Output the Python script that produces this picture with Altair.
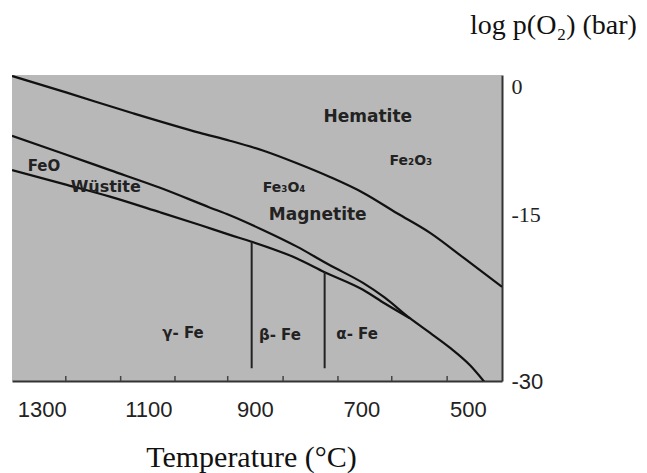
import altair as alt
import pandas as pd

# Hematite / magnetite boundary (Fe2O3 / Fe3O4)
top_T = [1356, 1253, 1129, 1003, 947, 885, 821, 759, 697, 633, 571, 509, 436]
top_y = [1.1, -0.6, -2.7, -4.7, -5.5, -6.5, -7.8, -9.2, -10.8, -12.9, -14.9, -17.4, -20.4]

# Magnetite / wustite boundary, continuing as magnetite / iron below the triple point
mid_T = [1356, 1266, 1172, 1078, 985, 947, 885, 821, 759, 697, 656, 609, 571, 534, 496, 466]
mid_y = [-5.0, -6.7, -8.5, -10.3, -12.3, -13.1, -14.6, -16.3, -18.2, -20.0, -21.5, -23.6,
         -25.1, -26.6, -28.4, -30.3]

# Wustite / iron boundary
bot_T = [1356, 1253, 1172, 1078, 1003, 947, 906, 821, 769, 697, 656, 609]
bot_y = [-8.5, -10.0, -11.2, -12.8, -14.1, -15.1, -15.8, -17.5, -18.9, -20.7, -22.1, -23.6]

# Iron allotrope transitions (gamma/beta, beta/alpha)
trans_T = [906, 769]
trans_top = [-15.8, -18.9]
trans_bottom = [-28.7, -28.7]

# Region labels
lab_text = ["Hematite", "Fe\u2082O\u2083", "Fe\u2083O\u2084", "Magnetite", "FeO", "W\u00fcstite",
            "\u03b3- Fe", "\u03b2- Fe", "\u03b1- Fe"]
lab_T = [688, 607, 845, 782, 1296, 1180, 1035, 853, 708]
lab_y = [-3.1, -7.6, -10.3, -13.1, -8.1, -10.2, -25.1, -25.3, -25.2]
lab_size = [17, 14, 14, 17, 15, 16, 15, 15, 15]

# Axis ticks and labels
x_labels = [1300, 1100, 900, 700, 500]
x_ticks = [1255, 1152, 1050, 951, 847, 744, 643, 539]
y_labels = [0, -15, -30]

rows = []
for name, ts, ys in [("hem", top_T, top_y), ("mid", mid_T, mid_y), ("bot", bot_T, bot_y)]:
    for i, (t, v) in enumerate(zip(ts, ys)):
        rows.append({"series": name, "idx": i, "T": t, "y": v})
lines_df = pd.DataFrame(rows)
trans_df = pd.DataFrame({"T": trans_T, "y": trans_top, "y2": trans_bottom})
lab_df = pd.DataFrame({"T": lab_T, "y": lab_y, "text": lab_text, "fs": lab_size})
tick_df = pd.DataFrame({"T": x_ticks})

xscale = alt.Scale(domain=[436, 1356], reverse=True, nice=False, zero=False)
yscale = alt.Scale(domain=[-30, 1.2], nice=False, zero=False)

xenc = alt.X("T:Q", scale=xscale, axis=alt.Axis(
    values=x_labels, ticks=False, grid=False, labelFlush=False,
    labelExpr="'' + datum.value", labelFont="Liberation Sans", labelFontSize=22,
    labelColor="#222", labelPadding=18, domainColor="#333", domainWidth=2,
    title="Temperature (\u00b0C)", titleFont="Liberation Serif", titleFontSize=30,
    titleFontWeight="normal", titleColor="#111", titleX=239, titleY=85,
    titleAlign="center", titleBaseline="alphabetic"))

yenc = alt.Y("y:Q", scale=yscale, axis=alt.Axis(
    orient="right", values=y_labels, ticks=False, grid=False, labelFlush=False,
    labelExpr="'' + datum.value", labelAlign="left", labelPadding=9,
    labelFontSize=22, labelColor="#222",
    labelFont={"condition": {"test": "datum.value == -30", "value": "Liberation Sans"},
               "value": "Liberation Serif"},
    labelOffset={"condition": {"test": "datum.value == -15", "value": -19}, "value": 0},
    domainColor="#333", domainWidth=2,
    title="log p(O\u2082) (bar)", titleAngle=0, titleX=51, titleY=-42,
    titleFont="Liberation Serif", titleFontSize=28, titleFontWeight="normal",
    titleColor="#111", titleAlign="center", titleBaseline="alphabetic"))

lines = alt.Chart(lines_df).mark_line(color="#111", strokeWidth=2.2, clip=True,
                                      interpolate="monotone").encode(
    x=xenc, y=yenc, detail="series:N", order="idx:Q")

trans = alt.Chart(trans_df).mark_rule(color="#222", strokeWidth=2).encode(
    x="T:Q", y="y:Q", y2="y2:Q")

ticks = alt.Chart(tick_df).mark_rule(color="#444", strokeWidth=1.5).encode(
    x="T:Q", y=alt.value(301), y2=alt.value(306))

labels = alt.Chart(lab_df).mark_text(font="DejaVu Sans", fontWeight="bold", color="#222").encode(
    x="T:Q", y="y:Q", text="text:N", size=alt.Size("fs:Q", scale=None, legend=None))

chart = alt.layer(lines, trans, ticks, labels).properties(
    width=490, height=306,
    autosize=alt.AutoSizeParams(type="none"),
    padding={"left": 12, "top": 75, "right": 145, "bottom": 92},
).configure_view(fill="#b8b8b8", stroke=None)

chart.save("out.html", embed_options={"renderer": "svg", "actions": False})
